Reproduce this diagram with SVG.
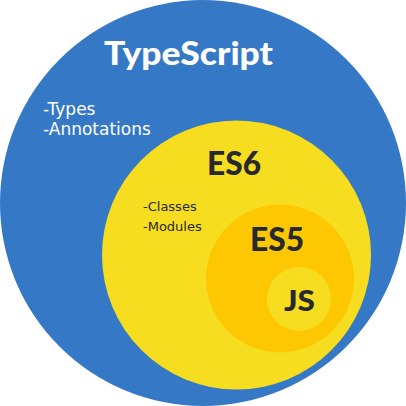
<svg xmlns="http://www.w3.org/2000/svg" width="406" height="406" viewBox="0 0 406 406">
  <style>
    .title { font-family: Lato, "Liberation Sans", Arial, sans-serif; font-weight: 900; }
    .note { font-family: "DejaVu Sans", sans-serif; }
    .dark { fill: #28282f; }
    .white { fill: #ffffff; }
  </style>
  <rect width="406" height="406" fill="#ffffff"/>
  <g id="typescript">
    <circle cx="203" cy="203" r="203" fill="#3478c6"/>
    <text class="title white" x="188.5" y="65" font-size="32" text-anchor="middle" textLength="169" lengthAdjust="spacingAndGlyphs">TypeScript</text>
    <text class="note white" x="43" y="115" font-size="17">-Types</text>
    <text class="note white" x="43" y="135" font-size="17">-Annotations</text>
  </g>
  <g id="es6">
    <circle cx="236.5" cy="255" r="134.5" fill="#f6dd1f"/>
    <text class="title dark" x="234" y="175" font-size="32" text-anchor="middle" textLength="54" lengthAdjust="spacingAndGlyphs">ES6</text>
    <text class="note dark" x="143" y="211" font-size="13">-Classes</text>
    <text class="note dark" x="143" y="231" font-size="13">-Modules</text>
  </g>
  <g id="es5">
    <circle cx="280" cy="278.5" r="74" fill="#fdc701"/>
    <text class="title dark" x="277" y="251" font-size="32" text-anchor="middle" textLength="54" lengthAdjust="spacingAndGlyphs">ES5</text>
  </g>
  <g id="js">
    <circle cx="299" cy="299" r="32" fill="#f6dd1f"/>
    <text class="title dark" x="299.5" y="311" font-size="29" text-anchor="middle" textLength="31" lengthAdjust="spacingAndGlyphs">JS</text>
  </g>
  <g id="connectors"/>
</svg>
